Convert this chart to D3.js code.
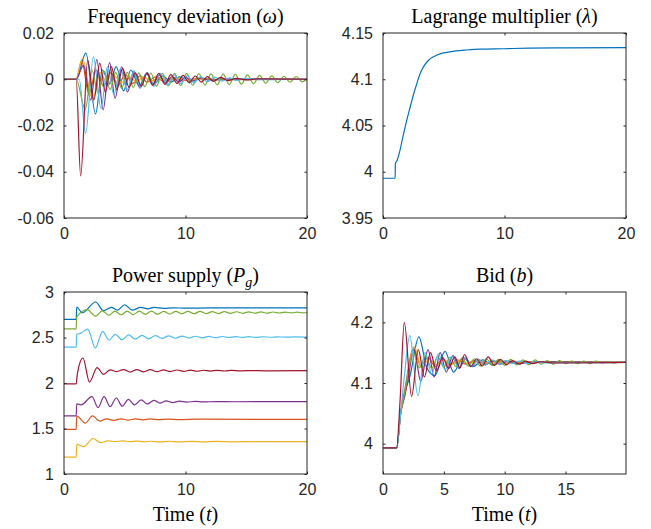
<!DOCTYPE html>
<html>
<head>
<meta charset="utf-8">
<script src="https://cdn.jsdelivr.net/npm/d3@7"></script>
<style>
  body { margin: 0; background: #fff; }
  .tick text { font-family: "Liberation Sans", Arial, sans-serif; font-size: 16px; fill: #262626; }
  .tick line { stroke: #262626; }
  .ttl { font-family: "Liberation Serif", "Times New Roman", serif; font-size: 20px; fill: #000; }
</style>
</head>
<body>
<svg id="fig" width="651" height="529"></svg>
<script>

// MATLAB default line order: gen 1..7
const seriesNames = ["gen1", "gen2", "gen3", "gen4", "gen5", "gen6", "gen7"];
const lineColors = ["#0072BD", "#D95319", "#EDB120", "#7E2F8E", "#77AC30", "#4DBEEE", "#A2142F"];

const xTicksTop = [0, 10, 20];
const xTicksBid = [0, 5, 10, 15];
const yTicksFreq = [0.02, 0, -0.02, -0.04, -0.06];
const yTicksLambda = [4.15, 4.1, 4.05, 4, 3.95];
const yTicksPower = [3, 2.5, 2, 1.5, 1];
const yTicksBid = [4.2, 4.1, 4];

// frequency deviation, one [t, w] list per generator
const freqDev = [
  [[0,0],[1,0],[1.8,0.0113],[2.6,-0.015],[3.15,0.004],[3.75,-0.002],[4.3,0.0055],[4.9,-0.005],[5.5,0.004],[6.2,-0.003],[6.8,0.0025],[7.4,-0.002],[8.1,0.0015],[8.8,-0.0012],[9.5,0.001],[10.3,-0.0008],[11.2,0.0005],[12.5,-0.0003],[14,0.0001],[20,0]],
  [[0,0],[1,0],[1.45,0.008],[2.05,-0.0065],[2.65,0.004],[3.25,-0.003],[3.85,0.0028],[4.45,-0.0025],[5.05,0.002],[5.65,-0.0018],[6.25,0.0015],[6.85,-0.0013],[7.5,0.001],[8.2,-0.0009],[9,0.0007],[9.8,-0.0005],[11,0.0003],[12.5,-0.0002],[20,0]],
  [[0,0],[1,0],[1.5,0.009],[2.35,-0.0088],[3,0.003],[3.55,-0.002],[4.15,0.0015],[4.75,-0.0014],[5.35,0.0012],[5.95,-0.001],[6.55,0.001],[7.15,-0.0008],[7.85,0.0008],[8.55,-0.0006],[9.4,0.0005],[10.4,-0.0004],[11.5,0.0003],[13,-0.0002],[20,0]],
  [[0,0],[1,0],[1.6,0.006],[2.2,-0.009],[2.7,0.0085],[3.22,-0.0133],[3.75,0.0072],[4.2,-0.0082],[4.75,0.0054],[5.22,-0.0055],[5.75,0.0035],[6.25,-0.0038],[6.8,0.0025],[7.3,-0.0026],[7.85,0.0018],[8.35,-0.0018],[8.9,0.0012],[9.45,-0.0012],[10,0.0008],[10.6,-0.0008],[11.3,0.0005],[12,-0.0004],[13,0.0002],[14.5,-0.0001],[20,0]],
  [[0,0],[1,0],[1.75,-0.013],[2.3,0.004],[2.8,-0.006],[3.3,0.0035],[3.8,-0.0045],[4.25,0.003],[4.75,-0.004],[5.2,0.003],[5.7,-0.0035],[6.15,0.0028],[6.65,-0.0032],[7.15,0.0027],[7.6,-0.003],[8.1,0.0026],[8.6,-0.0028],[9.1,0.0025],[9.6,-0.0027],[10.1,0.0025],[10.6,-0.0026],[11.1,0.0024],[11.6,-0.0025],[12.1,0.0023],[12.6,-0.0024],[13.1,0.0022],[13.6,-0.0023],[14.1,0.0021],[14.6,-0.0021],[15.1,0.0019],[15.6,-0.0019],[16.1,0.0017],[16.6,-0.0017],[17.1,0.0015],[17.6,-0.0015],[18.1,0.0013],[18.6,-0.0013],[19.1,0.0012],[19.6,-0.0011],[20,0.0003]],
  [[0,0],[1,0],[1.25,0],[1.78,-0.0234],[2.42,0.0097],[3.05,-0.0126],[3.58,0.0055],[4.1,-0.0065],[4.65,0.0045],[5.2,-0.0045],[5.75,0.0035],[6.3,-0.0035],[6.85,0.003],[7.4,-0.003],[7.95,0.0025],[8.5,-0.0025],[9.05,0.002],[9.6,-0.0019],[10.15,0.0016],[10.7,-0.0015],[11.25,0.0012],[11.8,-0.0011],[12.4,0.0009],[13,-0.0008],[13.6,0.0006],[14.2,-0.0005],[15,0.0003],[16,-0.0002],[20,0]],
  [[0,0],[1,0],[1.37,-0.0418],[1.95,0.0083],[2.45,-0.009],[2.95,0.007],[3.4,-0.0055],[3.9,0.0055],[4.35,-0.0045],[4.82,0.0047],[5.35,-0.0035],[5.87,0.0028],[6.35,-0.003],[6.85,0.0028],[7.3,-0.0025],[7.8,0.0025],[8.3,-0.0022],[8.8,0.002],[9.3,-0.0018],[9.8,0.0017],[10.3,-0.0015],[10.8,0.0014],[11.3,-0.0012],[11.8,0.0011],[12.3,-0.0009],[12.9,0.0008],[13.5,-0.0006],[14.2,0.0004],[15,-0.0003],[16,0.0002],[20,0]]
];

// Lagrange multiplier
const lambda = [[0,3.993],[1,3.993],[1.02,4.009],[1.15,4.012],[1.37,4.0217],[1.7,4.0416],[2,4.058],[2.24,4.07],[2.5,4.083],[2.79,4.0956],[3.05,4.106],[3.34,4.1136],[3.7,4.12],[4.16,4.1244],[4.7,4.1275],[5.26,4.1291],[6,4.1306],[6.9,4.1316],[8,4.1325],[9.9,4.133],[12,4.1336],[15,4.1339],[20,4.1341]];

// power supply
const powerSupply = [
  [[0,2.7],[1,2.7],[1.05,2.835],[1.5,2.77],[2.6,2.89],[3.25,2.795],[3.9,2.83],[4.4,2.8],[5,2.86],[5.6,2.8],[6.3,2.83],[6.9,2.815],[7.4,2.83],[8.2,2.82],[9,2.826],[10,2.822],[12,2.825],[20,2.825]],
  [[0,1.49],[1,1.49],[1.05,1.635],[1.75,1.56],[2.35,1.638],[2.95,1.58],[3.5,1.605],[4.1,1.59],[4.7,1.605],[5.3,1.592],[5.9,1.605],[6.5,1.595],[7.1,1.605],[7.8,1.597],[8.6,1.604],[9.5,1.598],[11,1.602],[20,1.6]],
  [[0,1.185],[1,1.185],[1.05,1.325],[1.6,1.3],[2.4,1.39],[3,1.345],[3.6,1.365],[4.2,1.355],[4.8,1.365],[5.4,1.355],[6,1.362],[6.6,1.354],[7.2,1.36],[7.9,1.352],[8.6,1.36],[9.5,1.353],[10.5,1.359],[11.5,1.353],[12.5,1.358],[14,1.354],[16,1.356],[20,1.355]],
  [[0,1.638],[1,1.638],[1.05,1.77],[1.4,1.76],[2.3,1.85],[2.8,1.73],[3.3,1.85],[3.8,1.74],[4.3,1.835],[4.8,1.745],[5.3,1.82],[5.8,1.76],[6.35,1.815],[6.85,1.77],[7.4,1.808],[7.9,1.778],[8.4,1.803],[8.95,1.785],[9.5,1.8],[10.1,1.79],[10.8,1.798],[11.5,1.792],[12.5,1.796],[14,1.794],[20,1.795]],
  [[0,2.595],[1,2.595],[1.05,2.725],[1.9,2.806],[2.6,2.735],[3.15,2.792],[3.7,2.745],[4.2,2.79],[4.7,2.75],[5.2,2.79],[5.7,2.752],[6.2,2.789],[6.7,2.755],[7.2,2.789],[7.7,2.757],[8.2,2.788],[8.7,2.758],[9.2,2.788],[9.7,2.76],[10.2,2.787],[10.7,2.761],[11.2,2.786],[11.7,2.762],[12.2,2.785],[12.7,2.763],[13.2,2.784],[13.7,2.765],[14.2,2.783],[14.7,2.766],[15.2,2.782],[15.7,2.767],[16.2,2.781],[16.7,2.768],[17.2,2.78],[17.7,2.769],[18.2,2.779],[18.7,2.77],[19.2,2.779],[19.7,2.771],[20,2.775]],
  [[0,2.395],[1,2.395],[1.05,2.535],[1.35,2.545],[1.95,2.592],[2.58,2.385],[3.18,2.567],[3.7,2.47],[4.22,2.535],[4.77,2.476],[5.32,2.528],[5.87,2.482],[6.42,2.524],[6.97,2.485],[7.52,2.52],[8.07,2.49],[8.62,2.518],[9.17,2.492],[9.72,2.516],[10.27,2.494],[10.82,2.514],[11.37,2.496],[11.92,2.512],[12.47,2.498],[13.02,2.511],[13.57,2.5],[14.12,2.51],[14.67,2.501],[15.22,2.509],[15.77,2.502],[16.4,2.508],[17,2.503],[17.6,2.507],[18.2,2.504],[19,2.506],[20,2.505]],
  [[0,1.99],[1,1.99],[1.1,2.1],[1.56,2.275],[2.1,2.01],[2.72,2.168],[3.25,2.095],[3.8,2.145],[4.35,2.125],[4.9,2.148],[5.45,2.12],[6,2.148],[6.55,2.122],[7.1,2.146],[7.65,2.124],[8.2,2.144],[8.75,2.126],[9.3,2.143],[9.85,2.128],[10.4,2.142],[10.95,2.129],[11.5,2.14],[12.05,2.131],[12.6,2.139],[13.2,2.132],[13.8,2.138],[14.5,2.133],[15.5,2.137],[16.5,2.134],[20,2.135]]
];

// bids
const bid = [
  [[0,3.993],[1.12,3.993],[1.45,4.05],[1.8,4.085],[2.2,4.11],[2.95,4.176],[3.6,4.125],[4.25,4.112],[5.1,4.152],[5.8,4.118],[6.6,4.142],[7.4,4.127],[8.2,4.138],[9,4.13],[10,4.136],[11,4.132],[12.5,4.135],[20,4.134]],
  [[0,3.993],[1.12,3.993],[1.45,4.05],[1.8,4.09],[2.5,4.158],[3.1,4.128],[3.7,4.142],[4.3,4.127],[4.9,4.14],[5.5,4.13],[6.1,4.138],[6.8,4.131],[7.5,4.137],[8.3,4.132],[9.3,4.136],[11,4.134],[20,4.134]],
  [[0,3.993],[1.12,3.993],[1.45,4.05],[1.8,4.08],[2.1,4.12],[2.55,4.16],[3.2,4.125],[3.8,4.14],[4.4,4.13],[5,4.138],[5.6,4.131],[6.3,4.137],[7,4.132],[7.8,4.136],[8.7,4.133],[10,4.135],[20,4.134]],
  [[0,3.993],[1.12,3.993],[1.45,4.05],[1.8,4.08],[2,4.1],[2.55,4.155],[3.1,4.103],[3.7,4.155],[4.2,4.11],[4.7,4.15],[5.2,4.118],[5.75,4.145],[6.25,4.124],[6.8,4.141],[7.3,4.128],[7.85,4.139],[8.4,4.13],[9,4.137],[9.6,4.131],[10.3,4.136],[11.2,4.132],[12.5,4.135],[20,4.134]],
  [[0,3.993],[1.12,3.993],[1.45,4.05],[1.8,4.085],[2.5,4.15],[3,4.125],[3.5,4.145],[4,4.124],[4.5,4.143],[5,4.126],[5.5,4.142],[6,4.127],[6.5,4.141],[7,4.128],[7.5,4.14],[8,4.128],[8.5,4.14],[9,4.129],[9.5,4.139],[10,4.129],[10.5,4.139],[11,4.13],[11.5,4.138],[12,4.13],[12.5,4.138],[13,4.131],[13.5,4.137],[14,4.131],[14.5,4.137],[15,4.132],[15.5,4.136],[16,4.132],[16.5,4.136],[17,4.132],[17.5,4.136],[18,4.133],[18.5,4.135],[19,4.133],[19.5,4.135],[20,4.134]],
  [[0,3.993],[1.12,3.993],[1.45,4.05],[1.75,4.11],[2.2,4.178],[2.87,4.079],[3.45,4.15],[4,4.115],[4.55,4.148],[5.1,4.122],[5.65,4.144],[6.2,4.126],[6.75,4.141],[7.3,4.128],[7.85,4.139],[8.4,4.13],[8.95,4.138],[9.5,4.131],[10.05,4.137],[10.6,4.132],[11.2,4.136],[11.8,4.132],[12.5,4.135],[13.5,4.133],[20,4.134]],
  [[0,3.993],[1.12,3.993],[1.4,4.07],[1.75,4.2],[2.35,4.078],[2.9,4.155],[3.4,4.11],[3.9,4.15],[4.4,4.12],[4.9,4.142],[5.4,4.124],[5.9,4.143],[6.3,4.125],[6.7,4.147],[7.2,4.127],[7.7,4.14],[8.15,4.128],[8.65,4.143],[9.15,4.129],[9.65,4.139],[10.15,4.13],[10.65,4.137],[11.2,4.131],[11.7,4.136],[12.3,4.132],[13,4.135],[14,4.133],[20,4.134]]
];

const svg = d3.select("#fig");
const tickLen = 2.5;

function drawPanel(opt) {
  const w = opt.w, h = opt.h;
  const g = svg.append("g").attr("transform", "translate(" + opt.x + "," + opt.y + ")");

  const x = d3.scaleLinear().domain(opt.xDomain).range([0, w]);
  const y = d3.scaleLinear().domain(opt.yDomain).range([h, 0]);

  const clipId = "clip-" + opt.id;
  g.append("clipPath").attr("id", clipId)
    .append("rect").attr("width", w).attr("height", h);

  const line = d3.line()
    .x(d => x(d[0]))
    .y(d => y(d[1]))
    .curve(d3.curveMonotoneX);

  g.append("g").attr("clip-path", "url(#" + clipId + ")")
    .selectAll("path")
    .data(opt.series)
    .enter().append("path")
    .attr("d", d => line(d))
    .attr("fill", "none")
    .attr("stroke", (d, i) => lineColors[i])
    .attr("stroke-width", 1.2)
    .attr("stroke-linejoin", "round");

  // labelled axes, ticks pointing in
  const ax = g.append("g").attr("transform", "translate(0," + h + ")")
    .call(d3.axisBottom(x).tickValues(opt.xTicks).tickSizeInner(-tickLen).tickSizeOuter(0).tickPadding(10).tickFormat(d3.format("")));
  const ay = g.append("g")
    .call(d3.axisLeft(y).tickValues(opt.yTicks).tickSizeInner(-tickLen).tickSizeOuter(0).tickPadding(10).tickFormat(d => String(d)));
  // mirrored ticks on top / right
  const at = g.append("g")
    .call(d3.axisTop(x).tickValues(opt.xTicks).tickSizeInner(-tickLen).tickSizeOuter(0).tickFormat(""));
  const ar = g.append("g").attr("transform", "translate(" + w + ",0)")
    .call(d3.axisRight(y).tickValues(opt.yTicks).tickSizeInner(-tickLen).tickSizeOuter(0).tickFormat(""));
  [ax, ay, at, ar].forEach(a => a.select(".domain").remove());
  ax.selectAll("text").attr("font-family", null).attr("font-size", null);
  ay.selectAll("text").attr("font-family", null).attr("font-size", null);
  svg.selectAll(".tick text").attr("fill", null);

  g.append("rect")
    .attr("width", w).attr("height", h)
    .attr("fill", "none")
    .attr("stroke", "#262626")
    .attr("stroke-width", 1);

  // title
  const t = g.append("text").attr("class", "ttl")
    .attr("x", w / 2).attr("y", -10)
    .attr("text-anchor", "middle");
  opt.title.forEach(p => {
    const s = t.append("tspan").text(p.s);
    if (p.it) s.attr("font-style", "italic");
    if (p.sub) s.attr("font-size", 14).attr("dy", 5);
    if (p.back) s.attr("dy", -5);
  });

  if (opt.xlabel) {
    const xl = g.append("text").attr("class", "ttl")
      .attr("x", w / 2).attr("y", h + 47)
      .attr("text-anchor", "middle");
    xl.append("tspan").text("Time (");
    xl.append("tspan").attr("font-style", "italic").text("t");
    xl.append("tspan").text(")");
  }
}

drawPanel({
  id: "freq", x: 64, y: 33, w: 243, h: 185,
  xDomain: [0, 20], yDomain: [-0.06, 0.02],
  xTicks: xTicksTop, yTicks: yTicksFreq, series: freqDev,
  title: [{s: "Frequency deviation ("}, {s: "\u03C9", it: true}, {s: ")"}]
});

drawPanel({
  id: "lambda", x: 383, y: 33, w: 243, h: 185,
  xDomain: [0, 20], yDomain: [3.95, 4.15],
  xTicks: xTicksTop, yTicks: yTicksLambda, series: [lambda],
  title: [{s: "Lagrange multiplier ("}, {s: "\u03BB", it: true}, {s: ")"}]
});

drawPanel({
  id: "power", x: 64, y: 292, w: 243, h: 182,
  xDomain: [0, 20], yDomain: [1, 3],
  xTicks: xTicksTop, yTicks: yTicksPower, series: powerSupply,
  title: [{s: "Power supply ("}, {s: "P", it: true}, {s: "g", it: true, sub: true}, {s: ")", back: true}],
  xlabel: true
});

drawPanel({
  id: "bid", x: 383, y: 292, w: 243, h: 182,
  xDomain: [0, 19.97], yDomain: [3.95, 4.25],
  xTicks: xTicksBid, yTicks: yTicksBid, series: bid,
  title: [{s: "Bid ("}, {s: "b", it: true}, {s: ")"}],
  xlabel: true
});

</script>
</body>
</html>
